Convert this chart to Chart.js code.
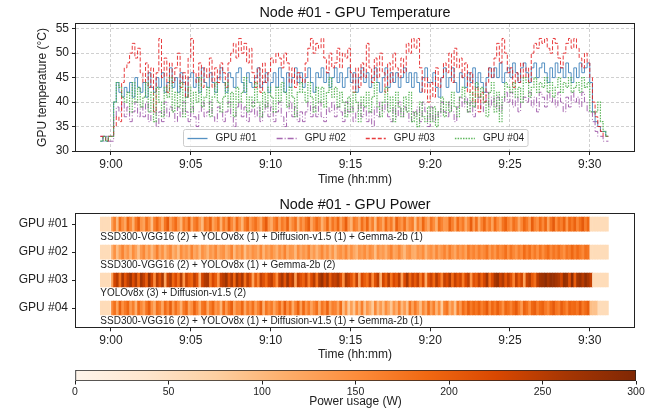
<!DOCTYPE html>
<html>
<head>
<meta charset="utf-8">
<script src="https://cdn.jsdelivr.net/npm/chart.js@4.4.1/dist/chart.umd.min.js"></script>
<style>
  html, body { margin: 0; padding: 0; background: #fff; }
  #wrap { position: relative; width: 652px; height: 410px; overflow: hidden; }
  canvas { position: absolute; left: 0; }
  #tempChart { top: 0; }
  #powerChart { top: 190px; }
  #cbarChart { top: 361px; }
</style>
</head>
<body>
<div id="wrap">
  <canvas id="tempChart" width="652" height="190"></canvas>
  <canvas id="powerChart" width="652" height="175"></canvas>
  <canvas id="cbarChart" width="652" height="49"></canvas>
</div>
<script>
const FONT = "'Liberation Sans', Arial, sans-serif";
Chart.defaults.font.family = FONT;
Chart.defaults.color = '#222';
Chart.defaults.animation = false;

// time axis: minutes after 9:00
const tickTimes = [0, 5, 10, 15, 20, 25, 30];
const tickLabels = ['9:00', '9:05', '9:10', '9:15', '9:20', '9:25', '9:30'];
const tempTicks = [30, 35, 40, 45, 50, 55];
const powerTicks = [0, 50, 100, 150, 200, 250, 300];
const gpuNames = ['GPU #01', 'GPU #02', 'GPU #03', 'GPU #04'];
const workloads = [
  'SSD300-VGG16 (2) + YOLOv8x (1) + Diffusion-v1.5 (1) + Gemma-2b (1)',
  'SSD300-VGG16 (2) + YOLOv8x (1) + Gemma-2b (2)',
  'YOLOv8x (3) + Diffusion-v1.5 (2)',
  'SSD300-VGG16 (2) + YOLOv8x (1) + Diffusion-v1.5 (1) + Gemma-2b (1)'
];

// samples every 10 s starting 8:59:20
const sampleStart = -40 / 60;
const sampleStep = 10 / 60;

// GPU temperatures (°C), one row per minute
const temp01 = [32,33,32,33,
  33,40,44,42,41,43, 42,44,41,45,43,42, 44,41,46,43,42,45, 43,46,42,44,47,43, 45,42,46,44,41,45,
  46,43,45,42,47,44, 43,46,44,42,45,47, 44,42,46,45,43,46, 47,44,42,46,44,43, 45,47,43,44,46,42,
  44,46,43,47,45,42, 46,43,45,47,44,46, 43,45,47,44,42,46, 45,47,44,46,43,45, 47,44,46,43,45,47,
  44,46,42,45,47,44, 46,43,45,47,44,42, 45,47,43,46,44,46, 43,45,47,44,46,43, 46,44,42,45,47,44,
  44,46,43,41,45,47, 43,45,47,44,42,46, 45,43,46,44,47,43, 46,44,42,45,47,45, 47,45,48,44,46,47,
  45,48,46,44,47,48, 46,44,47,48,45,47, 48,46,44,47,45,48, 46,47,45,48,46,44, 47,45,48,46,47,48,
  44,38,36,35,34,34,33,33];
const temp02 = [33,32,33,32,
  32,37,39,38,40,37, 39,36,38,40,37,39, 37,40,36,38,39,35, 38,36,40,37,39,38, 36,39,37,40,38,36,
  39,37,35,38,40,37, 38,40,37,36,39,38, 36,38,40,37,35,39, 40,37,39,36,38,40, 37,39,36,38,40,37,
  39,36,38,40,37,35, 38,40,37,39,36,38, 36,38,40,37,39,37, 40,37,36,39,38,40, 37,39,38,36,40,38,
  39,36,38,40,37,39, 36,38,35,39,37,40, 38,40,37,36,39,37, 40,37,39,38,36,38, 37,39,36,40,38,35,
  39,36,38,37,40,38, 37,40,38,36,39,41, 39,41,38,40,37,40, 41,38,40,42,39,41, 39,41,38,40,42,40,
  42,39,41,38,40,41, 40,42,39,41,38,42, 41,39,42,40,41,39, 42,40,38,41,39,42, 40,41,39,42,40,38,
  38,36,34,33,33,32,32,32];
const temp03 = [33,33,32,33,
  33,35,37,36,44,47, 48,50,52,49,51,46, 44,48,43,47,38,46, 53,45,49,42,48,44, 47,50,43,46,41,49,
  53,46,44,48,43,47, 45,49,43,47,44,48, 46,43,48,50,52,49, 53,50,52,48,51,46, 43,47,42,48,44,46,
  49,48,50,49,47,50, 48,44,47,43,46,45, 44,48,51,53,50,52, 51,53,49,46,50,47, 48,51,47,50,49,51,
  46,42,47,43,48,45, 52,47,44,49,45,50, 46,42,48,44,50,47, 45,49,46,52,50,53, 51,53,47,42,45,40,
  44,41,47,43,45,48, 46,50,44,51,47,49, 45,48,42,46,40,43, 38,42,40,44,47,45, 49,52,48,53,50,46,
  47,43,46,44,48,45, 47,44,50,52,51,53, 52,53,51,50,53,52, 49,47,50,52,53,51, 53,51,49,47,50,48,
  45,40,37,35,34,33,33,33];
const temp04 = [32,33,32,33,
  33,40,44,43,41,40, 42,38,44,40,43,39, 41,44,38,42,36,43, 40,37,43,41,45,38, 42,39,44,37,41,43,
  38,42,40,45,39,41, 43,37,41,44,40,38, 41,44,39,42,37,43, 40,42,45,38,41,39, 44,40,37,42,39,43,
  41,38,43,40,44,42, 39,43,41,37,42,44, 42,40,44,41,38,43, 40,43,39,42,45,41, 43,39,42,40,37,41,
  38,42,40,36,41,39, 42,38,41,44,39,37, 40,43,38,41,36,42, 39,37,41,38,42,36, 38,35,40,37,36,39,
  36,39,35,38,41,37, 40,38,42,39,37,41, 43,40,38,42,39,44, 41,43,40,37,42,44, 38,42,36,41,44,43,
  42,44,41,43,40,45, 44,41,43,45,42,44, 43,45,42,44,41,43, 45,42,44,43,45,42, 43,44,42,45,43,44,
  38,38,38,40,36,34,33,33];

// GPU power (W) per 10 s slot, 8:59:20 - 9:31:10
const power01 = [55,55,55,55,
  130,165,100,180,145,120, 190,155,110,170,200,140, 125,180,150,95,165,190, 155,115,175,205,130,160, 185,140,105,170,150,195,
  120,165,180,135,100,175, 160,195,125,150,180,110, 170,140,200,155,120,185, 145,105,165,190,135,160, 180,150,120,175,205,140,
  115,160,185,130,170,150, 195,125,155,180,110,165, 140,175,200,120,155,185, 165,110,145,190,130,175, 150,190,125,160,200,135,
  105,170,155,120,180,145, 190,130,165,100,175,155, 120,185,145,170,115,195, 160,140,180,125,155,170, 95,165,130,190,145,120,
  175,150,110,180,160,135, 140,195,165,125,185,150, 170,120,155,200,135,180, 115,160,190,145,170,125, 185,150,130,175,195,160,
  140,180,165,120,155,190, 170,135,200,160,145,185, 155,190,125,175,205,150, 180,165,195,140,190,170, 195,155,180,205,165,190,
  55,55,55,55,55,55,55];
const power02 = [55,55,55,55,
  110,145,95,130,160,120, 140,105,150,125,90,135, 155,115,140,100,130,165, 120,145,105,135,155,110, 130,95,150,125,140,115,
  160,120,135,100,145,130, 105,140,125,155,115,135, 145,110,130,160,100,140, 125,150,95,135,120,145, 135,115,155,105,140,125,
  150,130,110,145,125,160, 115,140,135,100,150,120, 140,125,160,115,135,105, 130,155,120,145,110,140, 100,135,145,125,155,115,
  145,120,105,140,130,150, 120,150,135,95,145,125, 135,110,140,160,120,130, 155,125,100,135,145,115, 110,140,130,150,105,135,
  145,120,155,125,140,160, 130,165,140,120,155,135, 150,125,170,145,160,140, 165,145,155,175,135,160, 140,170,150,160,180,145,
  175,155,140,165,150,185, 160,180,150,170,145,175, 150,170,185,155,175,160, 180,160,145,175,165,190, 165,185,170,155,180,175,
  55,55,55,55,55,55,55];
const power03 = [55,55,55,55,
  130,230,250,180,260,210, 245,270,220,255,190,265, 240,200,275,230,150,250, 215,260,120,235,255,190, 225,180,250,140,235,205,
  190,245,215,110,230,255, 260,175,225,200,140,235, 250,270,215,255,190,265, 230,260,180,245,215,125, 205,160,240,215,185,230,
  245,200,150,235,260,210, 270,225,250,130,240,215, 195,235,165,220,250,180, 255,275,230,265,200,245, 240,260,220,145,255,235,
  210,170,240,120,225,200, 180,235,150,215,245,110, 230,195,250,175,225,205, 245,130,220,260,190,235, 205,240,170,225,115,215,
  235,190,250,215,160,240, 220,255,185,240,210,230, 170,225,245,140,215,200, 240,195,230,265,180,220, 260,275,235,255,210,245,
  215,160,240,200,230,125, 235,250,205,180,245,265, 270,285,260,280,275,265, 255,230,280,270,215,285, 200,265,275,250,280,260,
  240,55,55,55,55,55,55];
const power04 = [55,55,55,55,
  155,180,125,195,145,170, 190,135,165,110,185,155, 130,175,200,145,115,180, 165,120,185,155,200,135, 180,150,110,170,190,125,
  145,195,160,115,175,185, 120,165,190,140,155,105, 185,135,175,200,125,160, 155,190,120,170,145,180, 130,160,195,110,175,150,
  170,125,155,185,135,200, 145,180,115,160,195,130, 190,140,170,125,155,180, 115,175,150,195,130,165, 160,125,185,95,145,80,
  130,85,150,105,165,90, 140,115,80,155,100,135, 95,150,120,85,140,110, 160,100,135,90,175,125, 170,135,95,155,120,180,
  130,165,105,150,80,160, 175,115,145,90,170,135, 185,160,200,170,190,175, 195,165,180,205,155,190, 170,200,175,145,190,180,
  160,185,205,170,135,195, 180,150,190,200,165,185, 195,170,155,185,205,175, 165,200,180,160,195,185, 190,175,205,170,185,200,
  95,90,90,55,55,55,55];

const cbMin = 0, cbMax = 300;
const orangeStops = ['#fff5eb', '#fee6ce', '#fdd0a2', '#fdae6b', '#fd8d3c', '#f16913', '#d94801', '#a63603', '#7f2704'];

function hexRgb(h) {
  return [1, 3, 5].map(i => parseInt(h.slice(i, i + 2), 16));
}

function oranges(v) {
  const n = orangeStops.length - 1;
  const t = Math.min(Math.max((v - cbMin) / (cbMax - cbMin), 0), 1) * n;
  const k = Math.min(Math.floor(t), n - 1), f = t - k;
  const a = hexRgb(orangeStops[k]), b = hexRgb(orangeStops[k + 1]);
  const c = a.map((x, i) => Math.round(x + (b[i] - x) * f));
  return `rgb(${c[0]},${c[1]},${c[2]})`;
}

const timeLabel = v => tickLabels[tickTimes.indexOf(v)] ?? '';
const xMin = -2.19, xMax = 32.77;

const framePlugin = {
  id: 'frame',
  afterDraw(chart) {
    const { ctx, chartArea: a } = chart;
    ctx.save();
    ctx.strokeStyle = '#222';
    ctx.lineWidth = 1;
    ctx.strokeRect(Math.round(a.left) - 0.5, Math.round(a.top) - 0.5,
      Math.round(a.right) - Math.round(a.left) + 1, Math.round(a.bottom) - Math.round(a.top) + 1);
    ctx.restore();
  }
};

// title centred over the plot area, like matplotlib's ax.set_title
const areaTitlePlugin = {
  id: 'areaTitle',
  afterDraw(chart, args, opts) {
    const { ctx, chartArea: a } = chart;
    ctx.save();
    ctx.font = '14.4px ' + FONT;
    ctx.fillStyle = '#111';
    ctx.textAlign = 'center';
    ctx.textBaseline = 'middle';
    ctx.fillText(opts.text, (a.left + a.right) / 2, a.top - opts.offset);
    ctx.restore();
  }
};

const legendPlugin = {
  id: 'innerLegend',
  afterDatasetsDraw(chart) {
    const { ctx, chartArea: a } = chart;
    const sets = chart.data.datasets;
    ctx.save();
    ctx.font = '10px ' + FONT;
    const handle = 20, gap = 8, colGap = 20, pad = 4, h = 17;
    const widths = sets.map(d => ctx.measureText(d.label).width);
    const total = widths.reduce((s, w) => s + handle + gap + w, 0) + colGap * (sets.length - 1) + pad * 2;
    const x0 = Math.round((a.left + a.right) / 2 - total / 2) + 0.5;
    const y1 = Math.round(a.bottom - 5) + 0.5, y0 = y1 - h;
    ctx.beginPath();
    if (ctx.roundRect) ctx.roundRect(x0, y0, total, h, 2); else ctx.rect(x0, y0, total, h);
    ctx.fillStyle = 'rgba(255,255,255,0.8)';
    ctx.fill();
    ctx.strokeStyle = '#cccccc';
    ctx.lineWidth = 1;
    ctx.stroke();
    let x = x0 + pad;
    const yc = Math.round((y0 + y1) / 2) + 0.5;
    sets.forEach((d, i) => {
      ctx.beginPath();
      ctx.setLineDash(d.borderDash || []);
      ctx.strokeStyle = d.borderColor;
      ctx.lineWidth = 1.3;
      ctx.moveTo(x, yc);
      ctx.lineTo(x + handle, yc);
      ctx.stroke();
      ctx.setLineDash([]);
      ctx.fillStyle = '#222';
      ctx.textBaseline = 'middle';
      ctx.fillText(d.label, x + handle + gap, yc);
      x += handle + gap + widths[i] + colGap;
    });
    ctx.restore();
  }
};

const workloadPlugin = {
  id: 'workloads',
  afterDatasetsDraw(chart) {
    const { ctx, scales: { x, y } } = chart;
    ctx.save();
    ctx.font = '10px ' + FONT;
    ctx.fillStyle = '#222';
    ctx.textBaseline = 'middle';
    workloads.forEach((txt, i) => ctx.fillText(txt, x.getPixelForValue(sampleStart), y.getPixelForValue(i) + 13));
    ctx.restore();
  }
};

const tickFont = { size: 12 };
const axisTick = { tickColor: '#222', tickLength: 4, tickWidth: 1 };

// ---------- temperature ----------
const tempSeries = [temp01, temp02, temp03, temp04];
const lineColors = ['rgba(55,126,184,0.85)', 'rgba(152,78,163,0.85)', 'rgba(228,26,28,0.85)', 'rgba(77,175,74,0.9)'];
const lineDashes = [[], [6, 2, 1, 2], [4, 2], [1.5, 1.2]];

new Chart(document.getElementById('tempChart'), {
  type: 'line',
  data: {
    datasets: tempSeries.map((vals, g) => ({
      label: gpuNames[g],
      data: vals.map((v, i) => ({ x: sampleStart + i * sampleStep, y: v })),
      borderColor: lineColors[g],
      borderDash: lineDashes[g],
      borderWidth: g === 3 ? 1.2 : 1,
      pointRadius: 0,
      stepped: true,
      fill: false,
      order: 4 - g
    }))
  },
  options: {
    responsive: false,
    layout: { padding: { left: 31, right: 18, top: 24, bottom: 0 } },
    plugins: {
      legend: { display: false },
      tooltip: { enabled: false },
      title: { display: false },
      areaTitle: { text: 'Node #01 - GPU Temperature', offset: 11 }
    },
    scales: {
      x: {
        type: 'linear', min: xMin, max: xMax,
        afterBuildTicks: s => { s.ticks = tickTimes.map(v => ({ value: v })); },
        afterFit: s => { s.height = 39; },
        ticks: { font: tickFont, padding: 2, autoSkip: false, maxRotation: 0, callback: timeLabel },
        grid: { color: 'rgba(170,170,170,0.55)', ...axisTick },
        border: { display: false, dash: [3, 2] },
        title: { display: true, text: 'Time (hh:mm)', font: { size: 12 }, padding: { top: 0, bottom: 3 } }
      },
      y: {
        min: 30, max: 55.96,
        afterBuildTicks: s => { s.ticks = tempTicks.map(v => ({ value: v })); },
        afterFit: s => { s.width = 45; },
        ticks: { font: tickFont, padding: 3 },
        grid: { color: 'rgba(170,170,170,0.55)', ...axisTick },
        border: { display: false, dash: [3, 2] },
        title: { display: true, text: 'GPU temperature (°C)', font: { size: 12 }, padding: { top: 4, bottom: 0 } }
      }
    }
  },
  plugins: [legendPlugin, framePlugin, areaTitlePlugin]
});

// ---------- power heatmap ----------
const powerSeries = [power01, power02, power03, power04];

new Chart(document.getElementById('powerChart'), {
  type: 'bar',
  data: {
    datasets: powerSeries.map((vals, g) => ({
      label: gpuNames[g],
      data: vals.map((v, i) => ({ x: [sampleStart + i * sampleStep, sampleStart + (i + 1) * sampleStep], y: g, w: v })),
      backgroundColor: c => (c.raw ? oranges(c.raw.w) : 'rgba(0,0,0,0)'),
      borderWidth: 0,
      barThickness: 14,
      grouped: false
    }))
  },
  options: {
    responsive: false,
    indexAxis: 'y',
    layout: { padding: { left: 10, right: 18, top: 24.3, bottom: 0 } },
    plugins: {
      legend: { display: false },
      tooltip: { enabled: false },
      title: { display: false },
      areaTitle: { text: 'Node #01 - GPU Power', offset: 9.5 }
    },
    scales: {
      x: {
        type: 'linear', min: xMin, max: xMax,
        afterBuildTicks: s => { s.ticks = tickTimes.map(v => ({ value: v })); },
        afterFit: s => { s.height = 37.7; },
        ticks: { font: tickFont, padding: 2, autoSkip: false, maxRotation: 0, callback: timeLabel },
        grid: { drawOnChartArea: false, ...axisTick },
        border: { display: false },
        title: { display: true, text: 'Time (hh:mm)', font: { size: 12 }, padding: { top: 0, bottom: 2.8 } }
      },
      y: {
        type: 'linear', min: -0.35, max: 3.69, reverse: true, offset: false,
        afterBuildTicks: s => { s.ticks = gpuNames.map((_, i) => ({ value: i })); },
        afterFit: s => { s.width = 66; },
        ticks: { font: tickFont, padding: 4, callback: v => gpuNames[v] ?? '' },
        grid: { drawOnChartArea: false, offset: false, ...axisTick },
        border: { display: false }
      }
    }
  },
  plugins: [workloadPlugin, framePlugin, areaTitlePlugin]
});

// ---------- colour bar ----------
new Chart(document.getElementById('cbarChart'), {
  type: 'bar',
  data: {
    labels: ['Power'],
    datasets: [{
      data: [[cbMin, cbMax]],
      backgroundColor: c => {
        const a = c.chart.chartArea;
        if (!a) return orangeStops[4];
        const g = c.chart.ctx.createLinearGradient(a.left, 0, a.right, 0);
        orangeStops.forEach((col, i) => g.addColorStop(i / (orangeStops.length - 1), col));
        return g;
      },
      borderColor: '#222',
      borderWidth: 1,
      borderSkipped: false,
      barPercentage: 1,
      categoryPercentage: 1
    }]
  },
  options: {
    responsive: false,
    indexAxis: 'y',
    layout: { padding: { left: 75, right: 16, top: 9, bottom: 0 } },
    plugins: { legend: { display: false }, tooltip: { enabled: false } },
    scales: {
      x: {
        type: 'linear', min: cbMin, max: cbMax,
        afterBuildTicks: s => { s.ticks = powerTicks.map(v => ({ value: v })); },
        afterFit: s => { s.height = 29; },
        ticks: { font: { size: 10.5 }, padding: 1, autoSkip: false, maxRotation: 0 },
        grid: { drawOnChartArea: false, tickColor: '#222', tickLength: 3.5, tickWidth: 1 },
        border: { display: false },
        title: { display: true, text: 'Power usage (W)', font: { size: 12 }, padding: { top: 0, bottom: 1 } }
      },
      y: { display: false }
    }
  }
});
</script>
</body>
</html>
